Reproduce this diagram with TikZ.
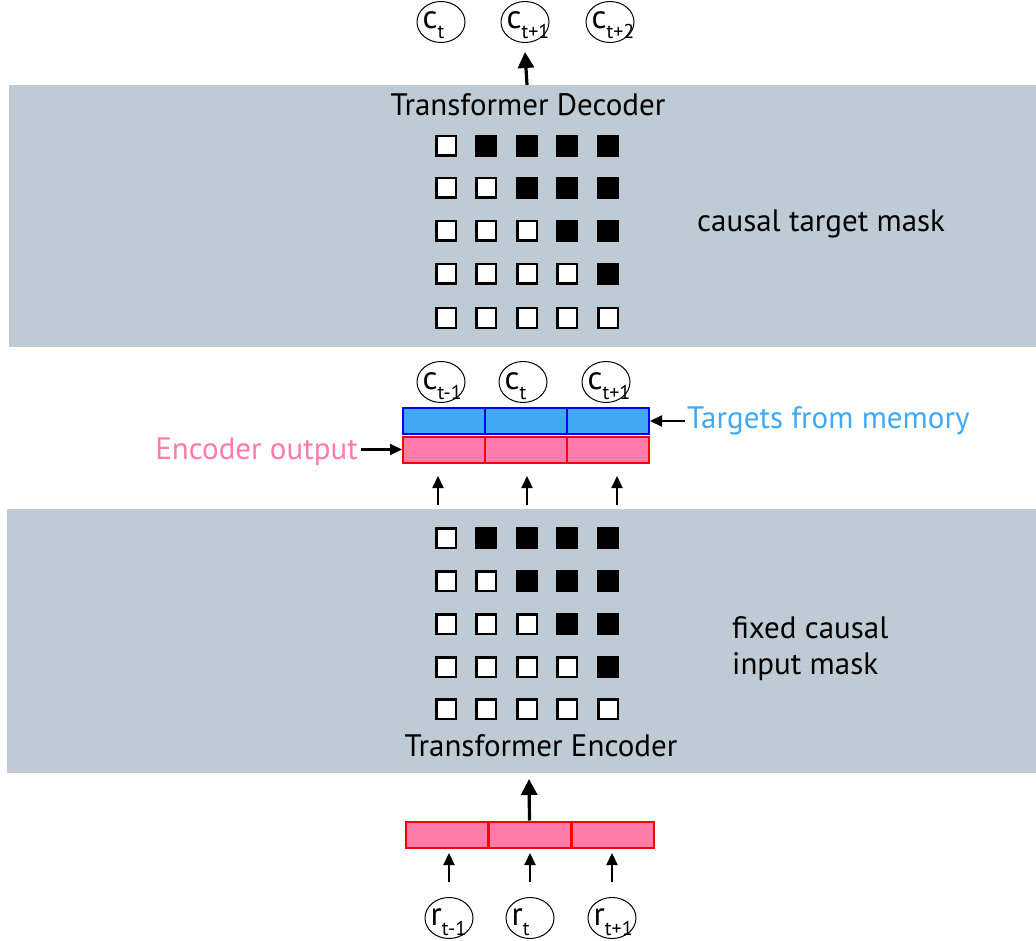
\documentclass[tikz,border=0pt]{standalone}
\usepackage{fontspec}
\setmainfont{PT Sans}
\usetikzlibrary{arrows.meta,shapes.geometric}

\definecolor{panelgray}{RGB}{190,203,212}
\definecolor{encpink}{RGB}{255,123,172}
\definecolor{tgtblue}{RGB}{63,169,245}

\newcommand{\tok}[2]{{\fontsize{33}{33}\selectfont #1}\raisebox{-10pt}{\fontsize{20}{20}\selectfont #2}}

\tikzset{
  panel/.style={fill=panelgray, draw=none},
  tokcircle/.style={ellipse, draw=black, line width=1pt, minimum width=48pt, minimum height=41pt, inner sep=0pt},
  toktext/.style={anchor=base west, inner sep=0pt},
  opensq/.style={draw=black, fill=white, line width=2.5pt, minimum size=19.5pt, inner sep=0pt},
  fullsq/.style={fill=black, draw=none, minimum size=22pt, inner sep=0pt},
  pinkcell/.style={fill=encpink, draw=red, line width=2pt, minimum width=82pt, minimum height=26pt, inner sep=0pt},
  bluecell/.style={fill=tgtblue, draw=blue, line width=2pt, minimum width=82pt, minimum height=26pt, inner sep=0pt},
  bigarrow/.style={line width=3.2pt, -{Triangle[length=16pt,width=16pt]}},
  smallarrow/.style={line width=2.2pt, -{Triangle[length=12pt,width=11pt]}},
  title/.style={font=\fontsize{31}{31}\selectfont, inner sep=0pt},
}

\begin{document}
\begin{tikzpicture}[x=1pt, y=-1pt]
\useasboundingbox (0,0) rectangle (1036,941);

% grey panels for the two transformer blocks
\fill[panel] (9,85) rectangle (1036,347);
\fill[panel] (7,509) rectangle (1036,773);

% decoder outputs
\foreach \n/\x/\s in {d1/441/t, d2/525/t+1, d3/610/t+2} {
  \node[tokcircle] (\n) at (\x,22) {};
  \node[toktext] (\n-lbl) at ([xshift=6pt,yshift=-7pt]\n.west) {\tok{c}{\s}};
}
\coordinate (decin) at (527,85);
\draw[bigarrow] (decin) -- ([yshift=-9pt]d2.south);

\node[title, anchor=base] (dectitle) at (528,116) {Transformer Decoder};

% causal masks
\foreach \r [count=\i from 0] in {146,188,231,274,318} {
  \foreach \c [count=\j from 0] in {446,486,527,567,608} {
    \ifnum\j>\i
      \node[fullsq] (dm-\i-\j) at (\c,\r) {};
    \else
      \node[opensq] (dm-\i-\j) at (\c,\r) {};
    \fi
  }
}
\foreach \r [count=\i from 0] in {538,581,624,667,709} {
  \foreach \c [count=\j from 0] in {446,486,527,567,608} {
    \ifnum\j>\i
      \node[fullsq] (em-\i-\j) at (\c,\r) {};
    \else
      \node[opensq] (em-\i-\j) at (\c,\r) {};
    \fi
  }
}

\node[title, anchor=base west] (declabel) at (697,232) {causal target mask};
\node[title, anchor=base west] (enclabel1) at (732,638) {fixed causal};
\node[title, anchor=base west] (enclabel2) at (732,674) {input mask};

% memory targets and encoder output
\foreach \n/\x/\s in {m1/441/t-1, m2/523/t, m3/606/t+1} {
  \node[tokcircle] (\n) at (\x,382) {};
  \node[toktext] (\n-lbl) at ([xshift=6pt,yshift=-7pt]\n.west) {\tok{c}{\s}};
}
\node[bluecell] (b1) at (444,421) {};
\node[bluecell] (b2) at (526,421) {};
\node[bluecell] (b3) at (608,421) {};
\node[pinkcell] (p1) at (444,449.5) {};
\node[pinkcell] (p2) at (526,449.5) {};
\node[pinkcell] (p3) at (608,449.5) {};

\node[title, text=encpink, anchor=base east] (encout) at (358,459) {Encoder output};
\node[title, text=tgtblue, anchor=base west] (tgtmem) at (687,428) {Targets from memory};
\draw[smallarrow] ([xshift=3pt]encout.east |- p1.west) -- (p1.west);
\draw[smallarrow] ([xshift=-2pt]tgtmem.west |- b3.east) -- (b3.east);

\foreach \x/\p in {438/p1, 527/p2, 617/p3} {
  \coordinate (\p-src) at (\x,505);
  \draw[smallarrow] (\p-src) -- (\x,476);
}

\node[title, anchor=base] (enctitle) at (541,756) {Transformer Encoder};

% encoder inputs
\node[pinkcell] (q1) at (446.5,834.5) {};
\node[pinkcell] (q2) at (529.5,834.5) {};
\node[pinkcell] (q3) at (612.5,834.5) {};
\coordinate (encin) at (529,779);
\draw[bigarrow] (q2.north) -- (encin);

\foreach \n/\x/\s in {r1/449/t-1, r2/530/t, r3/612/t+1} {
  \node[tokcircle] (\n) at (\x,918) {};
  \node[toktext] (\n-lbl) at ([xshift=6pt,yshift=-7pt]\n.west) {\tok{r}{\s}};
  \draw[smallarrow] ([yshift=15pt]\n.north) -- ([yshift=44pt]\n.north);
}
\end{tikzpicture}
\end{document}
